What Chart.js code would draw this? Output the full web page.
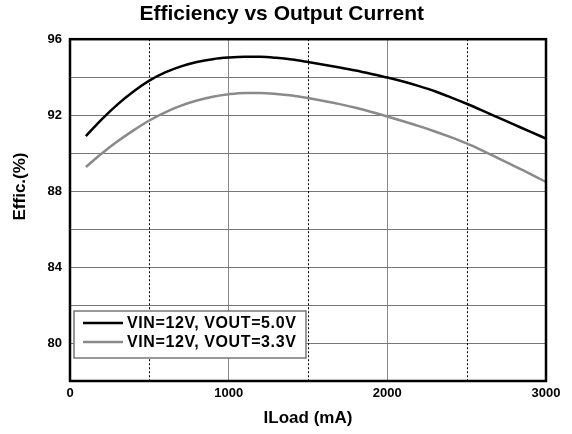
<!DOCTYPE html>
<html><head><meta charset="utf-8">
<script src="https://cdn.jsdelivr.net/npm/chart.js@4/dist/chart.umd.min.js"></script>
<style>html,body{margin:0;padding:0;background:#fff}#wrap{width:572px;height:434px}</style>
</head><body><div id="wrap"><canvas id="c" width="572" height="434"></canvas></div>
<script>
const loadCurrent = [100,200,300,400,500,600,700,800,900,1000,1100,1200,1300,1400,1500,1600,1700,1800,1900,2000,2100,2200,2300,2400,2500,2600,2700,2800,2900,3000];
const eff5v0 = [90.9,91.78,92.57,93.25,93.82,94.25,94.57,94.8,94.95,95.03,95.07,95.07,95.02,94.93,94.8,94.66,94.51,94.35,94.17,93.98,93.77,93.53,93.26,92.94,92.6,92.24,91.87,91.5,91.13,90.77];
const eff3v3 = [89.27,89.98,90.62,91.2,91.72,92.15,92.5,92.77,92.97,93.1,93.17,93.17,93.12,93.03,92.9,92.75,92.58,92.39,92.17,91.93,91.68,91.42,91.14,90.84,90.51,90.13,89.73,89.32,88.91,88.48];
const seriesLabels = ['VIN=12V, VOUT=5.0V', 'VIN=12V, VOUT=3.3V'];
const seriesColors = ['#000000', '#8a8a8a'];
const yTickLabels = [80, 84, 88, 92, 96];
const xTickLabels = [0, 1000, 2000, 3000];
const xMinorGrid = [500, 1500, 2500];

const FONT = '"Liberation Sans", Arial, sans-serif';

const framePlugin = {
  id: 'frameAndLegend',
  beforeDatasetsDraw(chart) {
    const {ctx, chartArea: a, scales: {x}} = chart;
    ctx.save();
    ctx.strokeStyle = '#000';
    ctx.lineWidth = 1;
    ctx.setLineDash([2, 2]);
    xMinorGrid.forEach(v => {
      const px = Math.round(x.getPixelForValue(v)) + 0.5;
      ctx.beginPath(); ctx.moveTo(px, a.top); ctx.lineTo(px, a.bottom); ctx.stroke();
    });
    ctx.restore();
  },
  afterDatasetsDraw(chart) {
    const {ctx, chartArea: a} = chart;
    ctx.save();
    const bx = a.left + 4, by = a.bottom - 70, bw = 232, bh = 47;
    ctx.fillStyle = '#fff';
    ctx.fillRect(bx, by, bw, bh);
    ctx.strokeStyle = '#777';
    ctx.lineWidth = 1.5;
    ctx.strokeRect(bx, by, bw, bh);
    ctx.font = 'bold 16px ' + FONT;
    ctx.textBaseline = 'middle';
    ctx.textAlign = 'left';
    if ('letterSpacing' in ctx) ctx.letterSpacing = '0.6px';
    chart.data.datasets.forEach((ds, i) => {
      const yy = by + 12 + i * 19;
      ctx.strokeStyle = ds.borderColor;
      ctx.lineWidth = 2.5;
      ctx.beginPath(); ctx.moveTo(bx + 9, yy); ctx.lineTo(bx + 49, yy); ctx.stroke();
      ctx.fillStyle = '#000';
      ctx.fillText(ds.label, bx + 53, yy + 1);
    });
    if ('letterSpacing' in ctx) ctx.letterSpacing = '0px';
    ctx.strokeStyle = '#000';
    ctx.lineWidth = 2.5;
    ctx.strokeRect(a.left, a.top, a.right - a.left, a.bottom - a.top);
    ctx.restore();
  }
};

new Chart(document.getElementById('c'), {
  type: 'line',
  data: {
    labels: loadCurrent,
    datasets: [
      {label: seriesLabels[0], data: loadCurrent.map((v, i) => ({x: v, y: eff5v0[i]})), borderColor: seriesColors[0], borderWidth: 2.5, pointRadius: 0, cubicInterpolationMode: 'monotone', fill: false},
      {label: seriesLabels[1], data: loadCurrent.map((v, i) => ({x: v, y: eff3v3[i]})), borderColor: seriesColors[1], borderWidth: 2.5, pointRadius: 0, cubicInterpolationMode: 'monotone', fill: false}
    ]
  },
  options: {
    responsive: false,
    animation: false,
    devicePixelRatio: 1,
    layout: {padding: {left: 0, right: 26, top: 0, bottom: 0}},
    plugins: {
      legend: {display: false},
      tooltip: {enabled: false},
      title: {
        display: true,
        text: '   Efficiency vs Output Current',
        color: '#000',
        font: {family: FONT, size: 21, weight: 'bold'},
        padding: {top: 2, bottom: 12}
      }
    },
    scales: {
      x: {
        type: 'linear', min: 0, max: 3000,
        afterFit(s) { s.height = 53; },
        border: {display: false},
        grid: {
          drawTicks: false,
          color: c => (c.tick && c.tick.value % 1000 === 0) ? '#888' : 'rgba(0,0,0,0)',
          lineWidth: 1
        },
        ticks: {
          stepSize: 500, autoSkip: false, maxRotation: 0, padding: 5,
          color: '#000', font: {family: FONT, size: 13, weight: 'bold'},
          callback: v => xTickLabels.includes(v) ? String(v) : ''
        },
        title: {display: true, text: 'ILoad (mA)', color: '#000', font: {family: FONT, size: 17, weight: 'bold'}, padding: {top: 0, bottom: 5}}
      },
      y: {
        min: 78, max: 96,
        afterFit(s) { s.width = 70; },
        border: {display: false},
        grid: {drawTicks: false, color: '#777', lineWidth: 1},
        ticks: {
          stepSize: 2, autoSkip: false, padding: 8,
          color: '#000', font: {family: FONT, size: 13, weight: 'bold'},
          callback: v => yTickLabels.includes(v) ? String(v) : ''
        },
        title: {display: true, text: '          Effic.(%)', color: '#000', font: {family: FONT, size: 17, weight: 'bold'}, padding: {top: 10, bottom: 0}}
      }
    }
  },
  plugins: [framePlugin]
});
</script></body></html>
